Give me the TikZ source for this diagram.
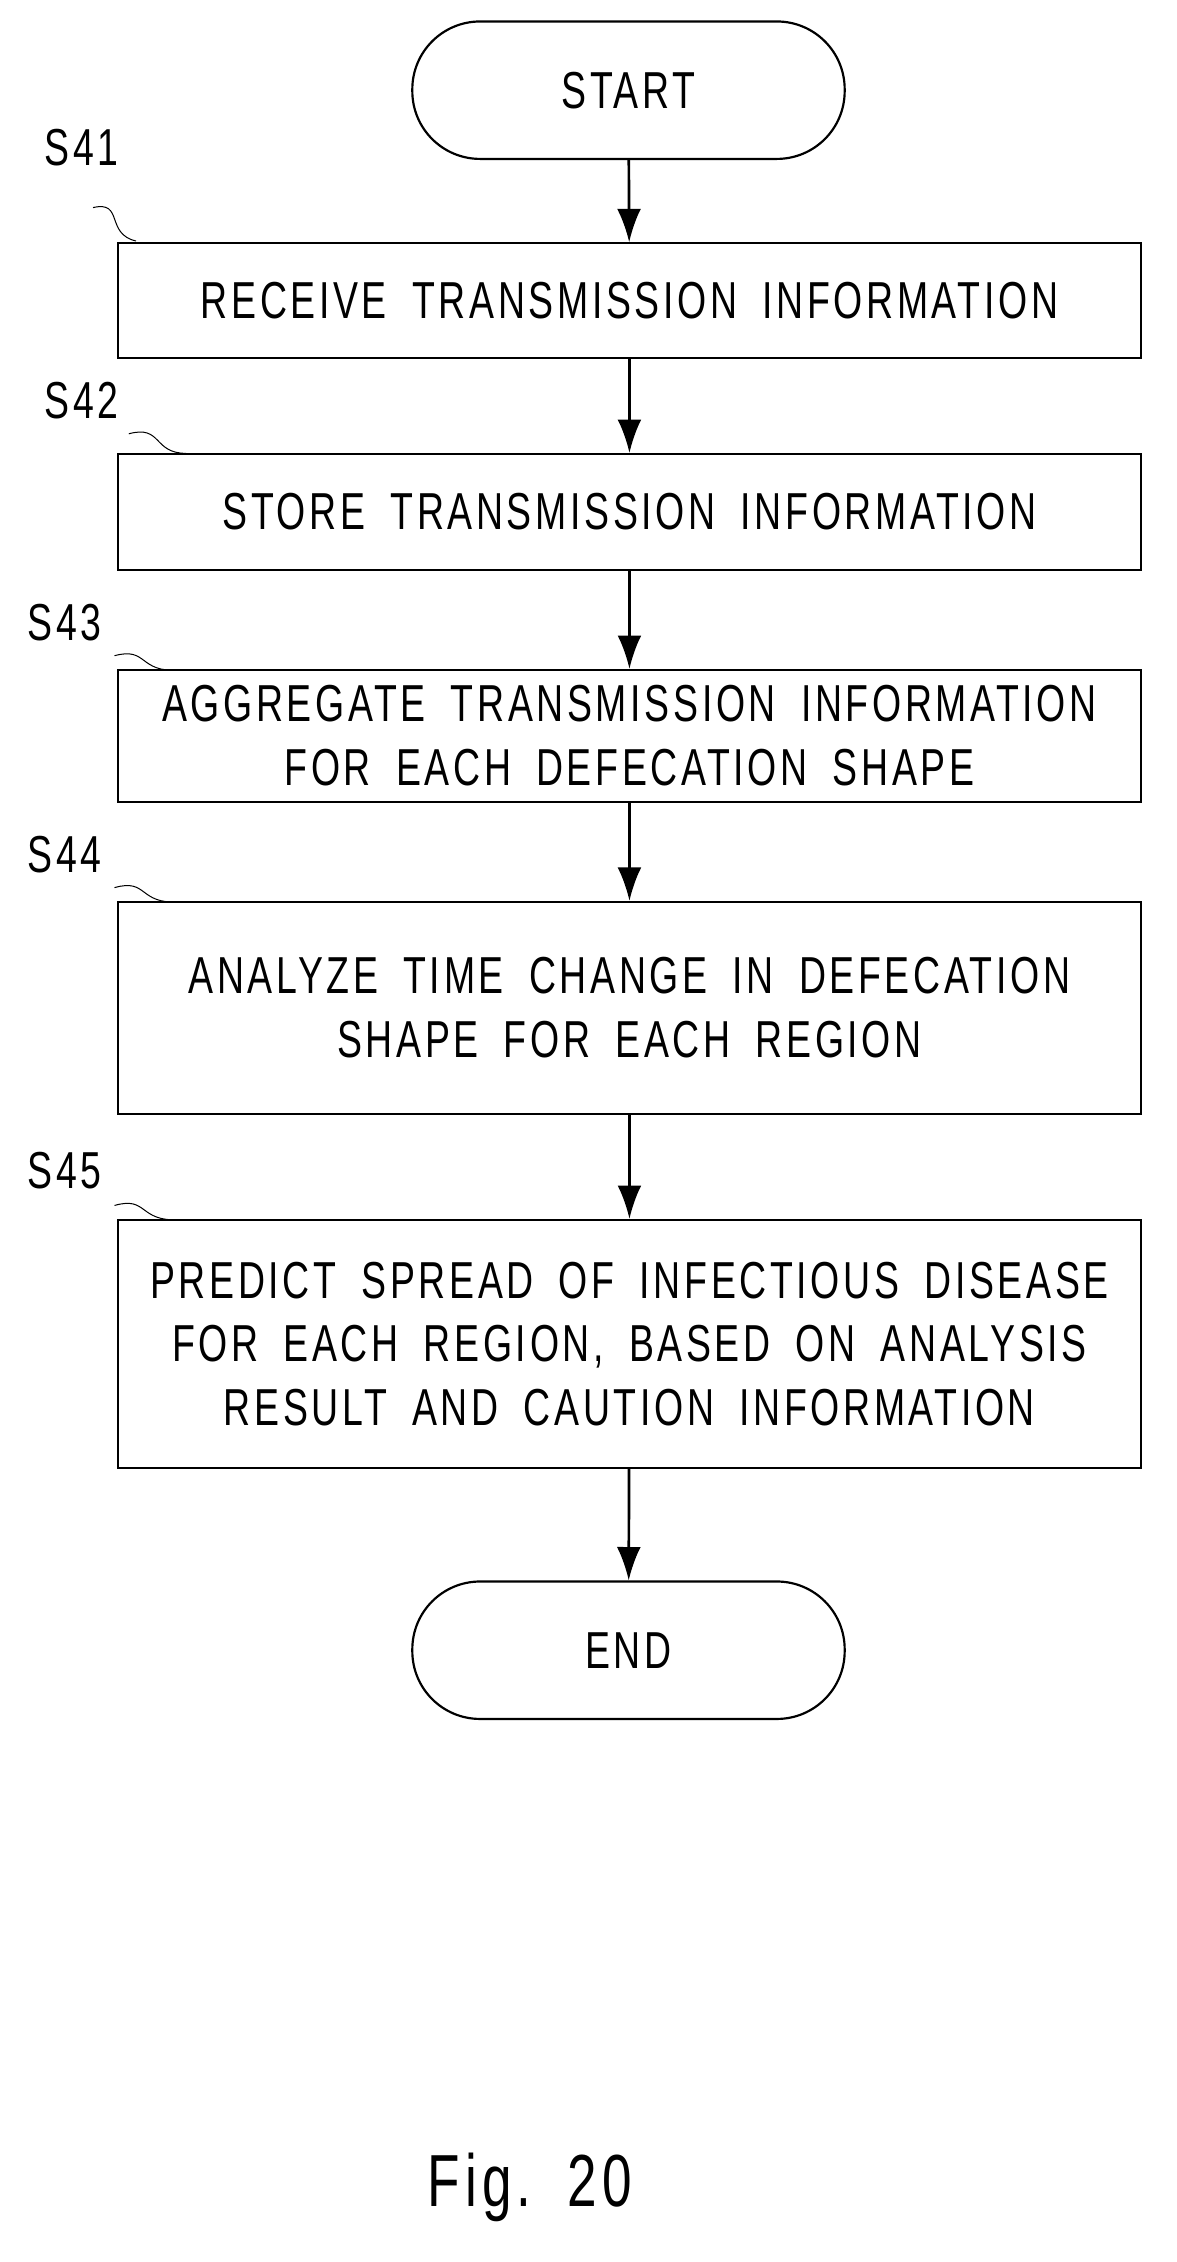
\documentclass[tikz,border=0pt]{standalone}
\usepackage{fontspec}
\setmainfont{Liberation Sans}[FakeStretch=0.72,LetterSpace=7,WordSpace=1.8]
\usetikzlibrary{positioning}
\usetikzlibrary{arrows.meta}
\begin{document}
\begin{tikzpicture}[every node/.style={font=\fontsize{31}{38}\selectfont},line width=1.3pt]

	\tikzstyle{stepbox}=[rectangle,draw,minimum width=21.45cm,align=center]
	\tikzstyle{term}=[rectangle,draw,rounded corners=1.42cm,minimum width=9.06cm,minimum height=2.88cm]
	\tikzstyle{flow}=[-{Latex[length=7mm,width=5mm]},line width=1.6pt]
	\tikzstyle{tag}=[anchor=center]
	\tikzstyle{wave}=[line width=0.6pt]

	\useasboundingbox (0,0) rectangle (24.66,-47.4);

		\node [term] (start) at (13.17,-1.89) {START};
		\node [stepbox,minimum height=2.4cm] (s41) at (13.19,-6.3) {RECEIVE TRANSMISSION INFORMATION};
		\node [stepbox,minimum height=2.43cm] (s42) at (13.19,-10.73) {STORE TRANSMISSION INFORMATION};
		\node [stepbox,minimum height=2.76cm] (s43) at (13.19,-15.42) {AGGREGATE TRANSMISSION INFORMATION\\FOR EACH DEFECATION SHAPE};
		\node [stepbox,minimum height=4.44cm] (s44) at (13.19,-21.12) {ANALYZE TIME CHANGE IN DEFECATION\\SHAPE FOR EACH REGION};
		\node [stepbox,minimum height=5.19cm] (s45) at (13.19,-28.16) {PREDICT SPREAD OF INFECTIOUS DISEASE\\ FOR EACH REGION, BASED ON ANALYSIS\\RESULT AND CAUTION INFORMATION};
		\node [term] (end) at (13.17,-34.58) {END};
		\node [tag,font=\fontsize{44}{50}\selectfont] (fig) at (11.1,-45.84) {Fig.~20};

		\draw[flow] (start) -- (s41);
		\draw[flow] (s41) -- (s42);
		\draw[flow] (s42) -- (s43);
		\draw[flow] (s43) -- (s44);
		\draw[flow] (s44) -- (s45);
		\draw[flow] (s45) -- (end);

		\node [tag] (l41) at (1.71,-3.09) {S41};
		\node [tag] (l42) at (1.71,-8.4) {S42};
		\node [tag] (l43) at (1.35,-13.05) {S43};
		\node [tag] (l44) at (1.35,-17.91) {S44};
		\node [tag] (l45) at (1.35,-24.54) {S45};

		\coordinate (w41) at (2.85,-5.05);
		\coordinate (w42) at (3.9,-9.5);
		\coordinate (w43) at (3.75,-14.04);
		\coordinate (w44) at (3.75,-18.9);
		\coordinate (w45) at (3.75,-25.56);
		\draw[wave] (1.95,-4.35) .. controls (2.6,-4.2) and (2.2,-4.9) .. (w41);
		\draw[wave] (2.7,-9.09) .. controls (3.4,-8.9) and (3.2,-9.5) .. (w42);
		\draw[wave] (2.4,-13.74) .. controls (3.1,-13.55) and (2.9,-14.1) .. (w43);
		\draw[wave] (2.4,-18.6) .. controls (3.1,-18.4) and (2.9,-18.95) .. (w44);
		\draw[wave] (2.4,-25.26) .. controls (3.1,-25.06) and (2.9,-25.6) .. (w45);

\end{tikzpicture}
\end{document}
